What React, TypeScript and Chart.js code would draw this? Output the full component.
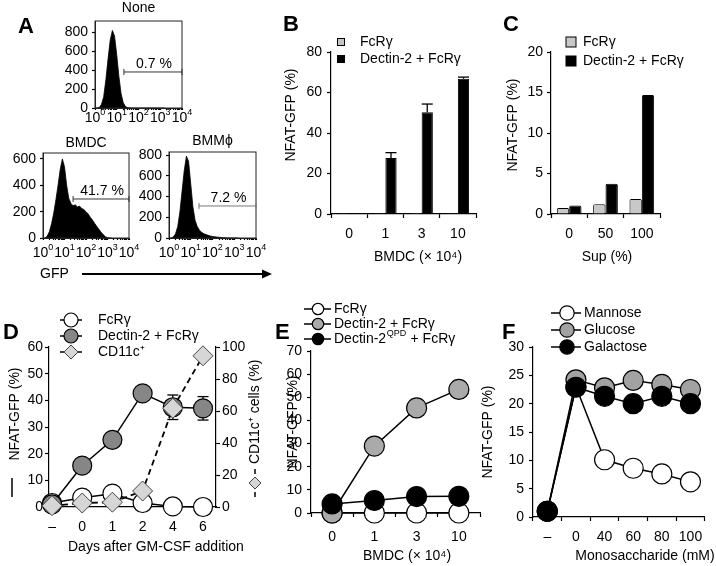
import React, { useEffect, useRef } from 'react';
import { Chart, registerables } from 'chart.js';

Chart.register(...registerables);

const PAGE_W = 716;
const PAGE_H = 566;
const FONT = '"Liberation Sans", Arial, Helvetica, sans-serif';

// ---------- Panel A: GFP histograms ----------
const gfpLog = [0, 0.1, 0.2, 0.3, 0.4, 0.5, 0.6, 0.7, 0.8, 0.9, 1.0, 1.1, 1.2, 1.3, 1.4, 1.5, 1.6, 1.7, 1.8, 1.9, 2.0, 2.1, 2.2, 2.3, 2.4, 2.5, 2.6, 2.7, 2.8, 2.9, 3.0, 3.1, 3.2];
const histNone = [0, 0, 5, 40, 120, 300, 520, 720, 820, 760, 560, 330, 150, 55, 15, 4, 1, 0, 0, 0, 0, 0, 0, 0, 0, 0, 0, 0, 0, 0, 0, 0, 0];
const histBMDC = [0, 0, 15, 50, 110, 190, 290, 400, 520, 600, 540, 400, 300, 262, 245, 252, 236, 242, 224, 216, 200, 182, 158, 136, 112, 88, 66, 44, 26, 10, 3, 0, 0];
const histBMM = [0, 0, 10, 40, 110, 250, 450, 650, 790, 740, 520, 300, 170, 110, 75, 55, 42, 33, 26, 20, 15, 12, 9, 7, 5, 3, 2, 1, 0, 0, 0, 0, 0];
const gfpExponents = ['0', '1', '2', '3', '4'];
const histYTicks = [0, 200, 400, 600, 800];
const histTitles = ['None', 'BMDC', 'BMMϕ'];
const gatePercents = ['0.7 %', '41.7 %', '7.2 %'];
const gateStart = [1.33, 1.4, 1.38];
const gateLevel = [381, 296, 309];

// ---------- Panel B ----------
const bCategories = ['0', '1', '3', '10'];
const bFcR = [0.4, 0.4, 0.5, 0.4];
const bDectin = [0.3, 27.7, 50.2, 66.8];
const bDectinErr = [0, 2.6, 4.1, 0.8];

// ---------- Panel C ----------
const cCategories = ['0', '50', '100'];
const cFcR = [0.74, 1.2, 1.85];
const cDectin = [1.05, 3.72, 14.7];

// ---------- Panel D ----------
const dCategories = ['–', '0', '1', '2', '4', '6'];
const dFcR = [1.5, 3.5, 5, 1.5, 0.2, 0];
const dDectin = [1, 15.5, 25.2, 42.6, 37.4, 37];
const dDectinErr = [0, 0, 0, 0, 4.6, 4.4];
const dCD11c = [0.8, 2.5, 3, 10, 61.7, 94.5];

// ---------- Panel E ----------
const eCategories = ['0', '1', '3', '10'];
const eFcR = [0, 0, 0, 0];
const eDectin = [0, 28.9, 45.4, 53.4];
const eQPD = [3.9, 5.4, 7.1, 7.2];

// ---------- Panel F ----------
const fCategories = ['–', '0', '40', '60', '80', '100'];
const fMannose = [1, 23, 10.1, 8.6, 7.6, 6.2];
const fGlucose = [1, 24.2, 22.8, 24.1, 23.4, 22.5];
const fGalactose = [1, 22.9, 21.3, 20, 21.3, 20];

// ---------- helpers ----------
type Area = { l: number; t: number; r: number; b: number };
const AXW = 30;
const AXH = 30;

function pad(a: Area, rightAxis = false) {
  return {
    left: a.l - AXW,
    top: a.t,
    right: PAGE_W - a.r - (rightAxis ? AXW : 0),
    bottom: PAGE_H - a.b - AXH,
  };
}
const fixW = (s: any) => { s.width = AXW; };
const fixH = (s: any) => { s.height = AXH; };
const tickFont = { family: FONT, size: 14 };
const axisBorder = { display: true, color: '#000', width: 1.2 };

function gridOpts(len: number, offset = false) {
  return { drawOnChartArea: false, drawTicks: true, tickLength: len, tickColor: '#000', tickWidth: 1.2, offset };
}

function yLin(min: number, max: number, step: number, padding: number, position = 'left', tickLen = 4) {
  return {
    type: 'linear', position, min, max,
    afterFit: fixW,
    border: axisBorder,
    grid: gridOpts(tickLen),
    ticks: { stepSize: step, includeBounds: false, color: '#000', font: tickFont, padding },
  };
}

function xCat(padding: number) {
  return {
    type: 'category', offset: true,
    afterFit: fixH,
    border: axisBorder,
    grid: gridOpts(4, true),
    ticks: { color: '#000', font: tickFont, padding, autoSkip: false, maxRotation: 0, minRotation: 0 },
  };
}

function txt(ctx: CanvasRenderingContext2D, s: string, x: number, y: number, size = 14, align: CanvasTextAlign = 'left', bold = false, color = '#000') {
  ctx.font = `${bold ? 'bold ' : ''}${size}px ${FONT}`;
  ctx.fillStyle = color;
  ctx.textAlign = align;
  ctx.textBaseline = 'middle';
  ctx.fillText(s, x, y);
}
function letter(ctx: CanvasRenderingContext2D, s: string, x: number, baseline: number) {
  ctx.font = `bold 22px ${FONT}`;
  ctx.fillStyle = '#000';
  ctx.textAlign = 'left';
  ctx.textBaseline = 'alphabetic';
  ctx.fillText(s, x, baseline);
}
function vtxt(ctx: CanvasRenderingContext2D, s: string, x: number, y: number, size = 14) {
  ctx.save();
  ctx.translate(x, y);
  ctx.rotate(-Math.PI / 2);
  txt(ctx, s, 0, 0, size, 'center');
  ctx.restore();
}
function circle(ctx: CanvasRenderingContext2D, x: number, y: number, r: number, fill: string) {
  ctx.beginPath();
  ctx.arc(x, y, r, 0, Math.PI * 2);
  ctx.fillStyle = fill;
  ctx.fill();
  ctx.lineWidth = 1.2;
  ctx.strokeStyle = '#000';
  ctx.stroke();
}
function diamond(ctx: CanvasRenderingContext2D, x: number, y: number, r: number, fill: string) {
  ctx.beginPath();
  ctx.moveTo(x, y - r);
  ctx.lineTo(x + r, y);
  ctx.lineTo(x, y + r);
  ctx.lineTo(x - r, y);
  ctx.closePath();
  ctx.fillStyle = fill;
  ctx.fill();
  ctx.lineWidth = 1;
  ctx.strokeStyle = '#444';
  ctx.stroke();
}
function square(ctx: CanvasRenderingContext2D, x: number, y: number, s: number, fill: string) {
  ctx.fillStyle = fill;
  ctx.fillRect(x - s / 2, y - s / 2, s, s);
  ctx.lineWidth = 1;
  ctx.strokeStyle = '#000';
  ctx.strokeRect(x - s / 2, y - s / 2, s, s);
}
function seg(ctx: CanvasRenderingContext2D, x0: number, y0: number, x1: number, y1: number, w = 1.5, dash: number[] = [], color = '#000') {
  ctx.beginPath();
  ctx.setLineDash(dash);
  ctx.moveTo(x0, y0);
  ctx.lineTo(x1, y1);
  ctx.lineWidth = w;
  ctx.strokeStyle = color;
  ctx.stroke();
  ctx.setLineDash([]);
}
// "10" with a raised exponent, centred on x
function powerLabel(ctx: CanvasRenderingContext2D, exp: string, x: number, y: number) {
  ctx.font = `14px ${FONT}`;
  const wBase = ctx.measureText('10').width;
  ctx.font = `9px ${FONT}`;
  const wExp = ctx.measureText(exp).width;
  const x0 = x - (wBase + wExp) / 2;
  txt(ctx, '10', x0, y, 14, 'left');
  txt(ctx, exp, x0 + wBase, y - 5, 9, 'left');
}

function decor(id: string, draw: (ctx: CanvasRenderingContext2D, chart: any) => void, hook = 'afterDraw') {
  return {
    id,
    [hook](chart: any) {
      const ctx = chart.ctx as CanvasRenderingContext2D;
      ctx.save();
      draw(ctx, chart);
      ctx.restore();
    },
  };
}

const baseOptions = (padding: any) => ({
  responsive: false,
  animation: false,
  events: [],
  layout: { padding },
  plugins: { legend: { display: false }, tooltip: { enabled: false }, title: { display: false } },
});

// ---------- Panel A configs ----------
const gfpTicks: { value: number }[] = [];
for (let d = 0; d < 4; d++) {
  gfpTicks.push({ value: d });
  for (let k = 2; k <= 9; k++) gfpTicks.push({ value: d + Math.log10(k) });
}
gfpTicks.push({ value: 4 });

function histConfig(idx: number, counts: number[], a: Area, ymax: number, labelDy: number, titleY: number, extra?: (ctx: CanvasRenderingContext2D, chart: any) => void) {
  return () => ({
    type: 'line',
    data: {
      datasets: [{
        data: gfpLog.map((x, i) => ({ x, y: counts[i] })),
        fill: 'origin',
        backgroundColor: '#000',
        borderColor: '#000',
        borderWidth: 0.8,
        pointRadius: 0,
        tension: 0,
      }],
    },
    options: {
      ...baseOptions(pad(a)),
      scales: {
        x: {
          type: 'linear', min: 0, max: 4,
          afterFit: fixH,
          afterBuildTicks: (s: any) => { s.ticks = gfpTicks.map((t) => ({ ...t })); },
          border: { display: true, color: '#222', width: 1 },
          grid: gridOpts(2),
          ticks: { autoSkip: false, maxRotation: 0, minRotation: 0, padding: 0, color: '#000', font: tickFont, callback: () => '' },
        },
        y: {
          ...yLin(0, ymax, 200, 4, 'left', 3),
          afterBuildTicks: (s: any) => { s.ticks = histYTicks.filter((v) => v <= ymax).map((value) => ({ value })); },
          border: { display: true, color: '#222', width: 1 },
        },
      },
    },
    plugins: [
      decor('histDecor' + idx, (ctx, chart) => {
        const ca = chart.chartArea;
        const xs = chart.scales.x;
        const ys = chart.scales.y;
        ctx.lineWidth = 1;
        ctx.strokeStyle = '#222';
        ctx.strokeRect(ca.left, ca.top, ca.right - ca.left, ca.bottom - ca.top);
        gfpExponents.forEach((e, d) => powerLabel(ctx, e, xs.getPixelForValue(d), ca.bottom + labelDy));
        txt(ctx, histTitles[idx], (ca.left + ca.right) / 2, titleY, 14, 'center');
        const gx0 = xs.getPixelForValue(gateStart[idx]);
        const gx1 = xs.getPixelForValue(4);
        const gy = ys.getPixelForValue(gateLevel[idx]);
        const gc = idx === 2 ? '#777' : '#333';
        seg(ctx, gx0, gy, gx1, gy, 1, [], gc);
        seg(ctx, gx0, gy - 3, gx0, gy + 3, 1, [], gc);
        seg(ctx, gx1, gy - 3, gx1, gy + 3, 1, [], gc);
        txt(ctx, gatePercents[idx], (gx0 + gx1) / 2 + 1, gy - 8, 14, 'center');
        if (extra) extra(ctx, chart);
      }),
    ],
  });
}

const cfgNone = histConfig(0, histNone, { l: 95, t: 21, r: 182, b: 108 }, 920, 10, 8, (ctx) => {
  letter(ctx, 'A', 18, 33);
});
const cfgBMDC = histConfig(1, histBMDC, { l: 43, t: 153, r: 129, b: 238 }, 645, 15, 143, (ctx) => {
  txt(ctx, 'GFP', 40, 274, 14, 'left');
  seg(ctx, 82, 274, 264, 274, 2);
  ctx.beginPath();
  ctx.moveTo(272, 274);
  ctx.lineTo(262, 269.5);
  ctx.lineTo(262, 278.5);
  ctx.closePath();
  ctx.fillStyle = '#000';
  ctx.fill();
});
const cfgBMM = histConfig(2, histBMM, { l: 169, t: 152, r: 256, b: 238 }, 830, 15, 141);

// ---------- Panel B ----------
const aB: Area = { l: 331, t: 52, r: 476, b: 214 };
const cfgB = () => ({
  type: 'bar',
  data: {
    labels: bCategories,
    datasets: [
      { data: bFcR, backgroundColor: '#c4c4c4', borderColor: '#000', borderWidth: 1, categoryPercentage: 0.62, barPercentage: 1 },
      { data: bDectin, backgroundColor: '#000', borderColor: '#000', borderWidth: 1, categoryPercentage: 0.62, barPercentage: 1 },
    ],
  },
  options: {
    ...baseOptions(pad(aB)),
    scales: { x: xCat(8), y: yLin(0, 80, 20, 5) },
  },
  plugins: [
    decor('bErr', (ctx, chart) => {
      const meta = chart.getDatasetMeta(1);
      const ys = chart.scales.y;
      meta.data.forEach((bar: any, i: number) => {
        const e = bDectinErr[i];
        if (!e) return;
        const y0 = ys.getPixelForValue(bDectin[i]);
        const y1 = ys.getPixelForValue(bDectin[i] + e);
        seg(ctx, bar.x, y0, bar.x, y1, 1.3);
        seg(ctx, bar.x - 5.5, y1, bar.x + 5.5, y1, 1.3);
      });
    }, 'afterDatasetsDraw'),
    decor('bDecor', (ctx) => {
      letter(ctx, 'B', 283, 31);
      square(ctx, 341, 42, 7, '#c4c4c4');
      txt(ctx, 'FcRγ', 360, 42);
      square(ctx, 341, 59, 7, '#000');
      txt(ctx, 'Dectin-2 + FcRγ', 360, 59);
      vtxt(ctx, 'NFAT-GFP (%)', 291, 115);
      txt(ctx, 'BMDC (× 10⁴)', 418, 257, 14, 'center');
    }),
  ],
});

// ---------- Panel C ----------
const aC: Area = { l: 551, t: 52, r: 660, b: 214 };
const cfgC = () => ({
  type: 'bar',
  data: {
    labels: cCategories,
    datasets: [
      { data: cFcR, backgroundColor: '#c8c8c8', borderColor: '#000', borderWidth: 1, borderRadius: 1.5, categoryPercentage: 0.68, barPercentage: 1 },
      { data: cDectin, backgroundColor: '#000', borderColor: '#000', borderWidth: 1, borderRadius: 1.5, categoryPercentage: 0.68, barPercentage: 1 },
    ],
  },
  options: {
    ...baseOptions(pad(aC)),
    scales: { x: xCat(8), y: yLin(0, 20, 5, 4) },
  },
  plugins: [
    decor('cDecor', (ctx) => {
      letter(ctx, 'C', 503, 31);
      square(ctx, 571, 42, 10, '#c8c8c8');
      txt(ctx, 'FcRγ', 583, 42);
      square(ctx, 571, 61, 10, '#000');
      txt(ctx, 'Dectin-2 + FcRγ', 583, 61);
      vtxt(ctx, 'NFAT-GFP (%)', 513, 125);
      txt(ctx, 'Sup (%)', 607, 257, 14, 'center');
    }),
  ],
});

// ---------- Panel D ----------
const aD: Area = { l: 49, t: 347, r: 216, b: 507 };
const dGrey = '#868686';
const dDiamond = '#d6d6d6';
const cfgD = () => ({
  type: 'line',
  data: {
    datasets: [
      {
        data: dCD11c.map((y, i) => ({ x: i, y })), yAxisID: 'y2', order: 0, clip: false,
        borderColor: '#000', borderWidth: 1.8, borderDash: [6, 4], tension: 0,
        pointStyle: 'rectRot', pointRadius: 10, pointBackgroundColor: dDiamond, pointBorderColor: '#444', pointBorderWidth: 1,
      },
      {
        data: dDectin.map((y, i) => ({ x: i, y })), yAxisID: 'y', order: 1, clip: false,
        borderColor: '#000', borderWidth: 1.5, tension: 0,
        pointRadius: 9.5, pointBackgroundColor: dGrey, pointBorderColor: '#000', pointBorderWidth: 1.2,
      },
      {
        data: dFcR.map((y, i) => ({ x: i, y })), yAxisID: 'y', order: 2, clip: false,
        borderColor: '#000', borderWidth: 1.5, tension: 0,
        pointRadius: 9.5, pointBackgroundColor: '#fff', pointBorderColor: '#000', pointBorderWidth: 1.2,
      },
    ],
  },
  options: {
    ...baseOptions(pad(aD, true)),
    scales: {
      x: {
        type: 'linear', min: -0.1, max: 5.43,
        afterFit: fixH,
        afterBuildTicks: (s: any) => { s.ticks = dCategories.map((_, i) => ({ value: i })); },
        border: axisBorder,
        grid: gridOpts(4),
        ticks: { autoSkip: false, maxRotation: 0, minRotation: 0, padding: 8, color: '#000', font: tickFont, callback: (v: number) => dCategories[v] ?? '' },
      },
      y: yLin(0, 60, 10, 2),
      y2: yLin(0, 100, 20, 2, 'right'),
    },
  },
  plugins: [
    decor('dErr', (ctx, chart) => {
      const xs = chart.scales.x;
      const ys = chart.scales.y;
      dDectinErr.forEach((e, i) => {
        if (!e) return;
        const x = xs.getPixelForValue(i);
        const y0 = ys.getPixelForValue(dDectin[i] - e);
        const y1 = ys.getPixelForValue(dDectin[i] + e);
        seg(ctx, x, y0, x, y1, 1.3);
        seg(ctx, x - 5.5, y0, x + 5.5, y0, 1.3);
        seg(ctx, x - 5.5, y1, x + 5.5, y1, 1.3);
      });
    }, 'beforeDatasetsDraw'),
    decor('dDecor', (ctx) => {
      letter(ctx, 'D', 3, 339);
      seg(ctx, 60, 320, 82, 320, 1.5);
      circle(ctx, 71, 320, 7, '#fff');
      txt(ctx, 'FcRγ', 98, 320);
      seg(ctx, 60, 336, 82, 336, 1.5);
      circle(ctx, 71, 336, 7, dGrey);
      txt(ctx, 'Dectin-2 + FcRγ', 98, 336);
      seg(ctx, 60, 352, 66, 352, 1.5);
      seg(ctx, 76, 352, 82, 352, 1.5);
      diamond(ctx, 71, 352, 7, dDiamond);
      txt(ctx, 'CD11c⁺', 98, 352);
      vtxt(ctx, 'NFAT-GFP (%)', 15, 414);
      seg(ctx, 12, 478, 12, 497, 1.5);
      ctx.save();
      ctx.translate(255, 497);
      ctx.rotate(-Math.PI / 2);
      seg(ctx, 0, 0, 5, 0, 1.5);
      diamond(ctx, 14, 0, 6, dDiamond);
      seg(ctx, 23, 0, 28, 0, 1.5);
      txt(ctx, 'CD11c⁺ cells (%)', 33, 0);
      ctx.restore();
      txt(ctx, 'Days after GM-CSF addition', 68, 547);
    }),
  ],
});

// ---------- Panel E ----------
const aE: Area = { l: 311, t: 351, r: 480, b: 513 };
const eGrey = '#aaaaaa';
const cfgE = () => ({
  type: 'line',
  data: {
    labels: eCategories,
    datasets: [
      { data: eQPD, order: 0, clip: false, borderColor: '#000', borderWidth: 1.5, tension: 0, pointRadius: 10, pointBackgroundColor: '#000', pointBorderColor: '#000', pointBorderWidth: 1.2 },
      { data: eDectin, order: 1, clip: false, borderColor: '#000', borderWidth: 1.5, tension: 0, pointRadius: 10, pointBackgroundColor: eGrey, pointBorderColor: '#000', pointBorderWidth: 1.2 },
      { data: eFcR, order: 2, clip: false, borderColor: '#000', borderWidth: 1.5, tension: 0, pointRadius: 10, pointBackgroundColor: '#fff', pointBorderColor: '#000', pointBorderWidth: 1.2 },
    ],
  },
  options: {
    ...baseOptions(pad(aE)),
    scales: { x: xCat(12), y: yLin(0, 70, 10, 5) },
  },
  plugins: [
    decor('eDecor', (ctx) => {
      letter(ctx, 'E', 275, 339);
      seg(ctx, 304, 309, 331, 309, 1.5);
      circle(ctx, 318, 309, 5.7, '#fff');
      txt(ctx, 'FcRγ', 334, 309);
      seg(ctx, 304, 324, 331, 324, 1.5);
      circle(ctx, 318, 324, 5.7, eGrey);
      txt(ctx, 'Dectin-2 + FcRγ', 334, 324);
      seg(ctx, 304, 339, 331, 339, 1.5);
      circle(ctx, 318, 339, 5.7, '#000');
      ctx.font = `14px ${FONT}`;
      const w1 = ctx.measureText('Dectin-2').width;
      txt(ctx, 'Dectin-2', 334, 339);
      txt(ctx, 'QPD', 334 + w1 + 0.5, 334, 9);
      ctx.font = `9px ${FONT}`;
      const w2 = ctx.measureText('QPD').width;
      txt(ctx, ' + FcRγ', 334 + w1 + w2 + 1, 339);
      vtxt(ctx, 'NFAT-GFP (%)', 293, 422);
      txt(ctx, 'BMDC (× 10⁴)', 407, 556, 14, 'center');
    }),
  ],
});

// ---------- Panel F ----------
const aF: Area = { l: 533, t: 347, r: 713, b: 517 };
const fGrey = '#a2a2a2';
const cfgF = () => ({
  type: 'line',
  data: {
    labels: fCategories,
    datasets: [
      { data: fGalactose, order: 0, clip: false, borderColor: '#000', borderWidth: 1.5, tension: 0, pointRadius: 10, pointBackgroundColor: '#000', pointBorderColor: '#000', pointBorderWidth: 1.2 },
      { data: fGlucose, order: 1, clip: false, borderColor: '#000', borderWidth: 1.5, tension: 0, pointRadius: 10, pointBackgroundColor: fGrey, pointBorderColor: '#000', pointBorderWidth: 1.2 },
      { data: fMannose, order: 2, clip: false, borderColor: '#000', borderWidth: 1.5, tension: 0, pointRadius: 10, pointBackgroundColor: '#fff', pointBorderColor: '#000', pointBorderWidth: 1.2 },
    ],
  },
  options: {
    ...baseOptions(pad(aF)),
    scales: { x: xCat(8), y: yLin(0, 30, 5, 5) },
  },
  plugins: [
    decor('fDecor', (ctx) => {
      letter(ctx, 'F', 502, 339);
      seg(ctx, 551, 313, 581, 313, 1.5);
      circle(ctx, 567, 313, 7.2, '#fff');
      txt(ctx, 'Mannose', 584, 313);
      seg(ctx, 551, 330, 581, 330, 1.5);
      circle(ctx, 567, 330, 7.2, fGrey);
      txt(ctx, 'Glucose', 584, 330);
      seg(ctx, 551, 347, 581, 347, 1.5);
      circle(ctx, 567, 347, 7.2, '#000');
      txt(ctx, 'Galactose', 584, 347);
      vtxt(ctx, 'NFAT-GFP (%)', 488, 432);
      txt(ctx, 'Monosaccharide (mM)', 645, 556, 14, 'center');
    }),
  ],
});

const CONFIGS: (() => any)[] = [cfgNone, cfgBMDC, cfgBMM, cfgB, cfgC, cfgD, cfgE, cfgF];

function ChartCanvas({ make }: { make: () => any }) {
  const ref = useRef<HTMLCanvasElement | null>(null);
  useEffect(() => {
    if (!ref.current) return;
    const chart = new Chart(ref.current, make());
    return () => chart.destroy();
  }, [make]);
  return (
    <canvas
      ref={ref}
      width={PAGE_W}
      height={PAGE_H}
      style={{ position: 'absolute', left: 0, top: 0, width: PAGE_W, height: PAGE_H }}
    />
  );
}

export default function App() {
  return (
    <div style={{ position: 'absolute', left: 0, top: 0, width: PAGE_W, height: PAGE_H, background: '#fff', overflow: 'hidden' }}>
      {CONFIGS.map((c, i) => (
        <ChartCanvas key={i} make={c} />
      ))}
    </div>
  );
}
